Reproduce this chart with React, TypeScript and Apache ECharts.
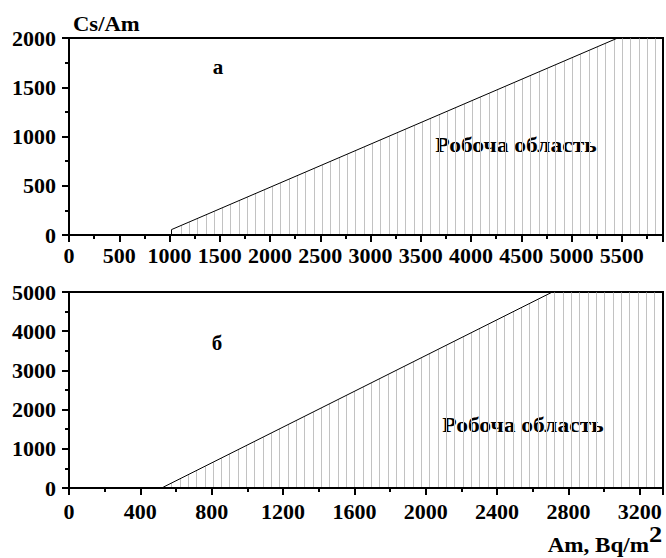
import React, { useEffect, useRef } from "react";
import * as echarts from "echarts";

// Panel а (top)
const topBoundaryX = [1020, 1020, 5460, 5910];
const topBoundaryY = [0, 55, 2000, 2000];
// Panel б (bottom)
const bottomBoundaryX = [528, 2710, 3330];
const bottomBoundaryY = [20, 5000, 5000];

const topXMax = 5910;
const topXInterval = 500;
const topYMax = 2000;
const topYInterval = 500;
const bottomXMax = 3330;
const bottomXInterval = 400;
const bottomYMax = 5000;
const bottomYInterval = 1000;

const panelLabels = ["а", "б"];
const regionLabel = "Робоча область";
const yAxisTitle = "Cs/Am";
const xAxisTitle = "Am, Bq/m";
const xAxisTitleSup = "2";

const FONT = "'Liberation Serif', 'Times New Roman', serif";

function zip(xs: number[], ys: number[]) {
  return xs.map((x, i) => [x, ys[i]]);
}

function hatchRender(bx: number[], by: number[], spacing: number, offset: number) {
  return (params: any, api: any) => {
    const cs = params.coordSys;
    const pts = bx.map((x, i) => api.coord([x, by[i]]));
    const bottom = cs.y + cs.height;
    const children: any[] = [];
    for (let px = pts[0][0] + offset; px < cs.x + cs.width - 1.5; px += spacing) {
      let yTop = cs.y;
      for (let i = 0; i < pts.length - 1; i++) {
        const [x0, y0] = pts[i];
        const [x1, y1] = pts[i + 1];
        if (px >= x0 && px <= x1 && x1 > x0) {
          yTop = y0 + ((y1 - y0) * (px - x0)) / (x1 - x0);
          break;
        }
      }
      yTop = Math.max(yTop, cs.y);
      const x = Math.round(px) + 0.5;
      children.push({
        type: "line",
        shape: { x1: x, y1: bottom - 1, x2: x, y2: yTop },
        style: { stroke: "#c2c2c2", lineWidth: 1 },
      });
    }
    return { type: "group", children };
  };
}

const axisCommon = {
  axisLine: { show: true, onZero: false, lineStyle: { color: "#000", width: 2 } },
  axisTick: { show: true, inside: false, length: 7, lineStyle: { color: "#000", width: 2 } },
  minorTick: { show: true, splitNumber: 2, length: 4, lineStyle: { color: "#000", width: 2 } },
  splitLine: { show: false },
  minorSplitLine: { show: false },
};

const labelStyle = {
  fontFamily: FONT,
  fontWeight: "bold" as const,
  fontSize: 22,
  color: "#000",
  formatter: (v: number) => String(v),
};

export default function App() {
  const ref = useRef<HTMLDivElement>(null);
  useEffect(() => {
    if (!ref.current) return;
    const chart = echarts.init(ref.current, null, { renderer: "svg" });
    const textStyle = (text: string, size = 20) => ({
      text,
      fontFamily: FONT,
      fontWeight: "bold",
      fontSize: size,
      fill: "#000",
    });
    chart.setOption({
      animation: false,
      backgroundColor: "#fff",
      grid: [
        { left: 69, top: 38, right: 3, height: 197, show: true, borderColor: "#000", borderWidth: 2, backgroundColor: "transparent" },
        { left: 69, top: 292, right: 3, height: 196, show: true, borderColor: "#000", borderWidth: 2, backgroundColor: "transparent" },
      ],
      xAxis: [
        {
          type: "value", gridIndex: 0, min: 0, max: topXMax, interval: topXInterval,
          ...axisCommon,
          axisLabel: { ...labelStyle, margin: 9, showMaxLabel: false },
        },
        {
          type: "value", gridIndex: 1, min: 0, max: bottomXMax, interval: bottomXInterval,
          ...axisCommon,
          axisLabel: { ...labelStyle, margin: 12, showMaxLabel: false },
        },
      ],
      yAxis: [
        {
          type: "value", gridIndex: 0, min: 0, max: topYMax, interval: topYInterval,
          ...axisCommon,
          axisLabel: { ...labelStyle, margin: 13 },
        },
        {
          type: "value", gridIndex: 1, min: 0, max: bottomYMax, interval: bottomYInterval,
          ...axisCommon,
          axisLabel: { ...labelStyle, margin: 13 },
        },
      ],
      series: [
        {
          type: "custom", xAxisIndex: 0, yAxisIndex: 0, data: [[0, 0]], z: 1,
          renderItem: hatchRender(topBoundaryX, topBoundaryY, 8.33, 9), silent: true,
        },
        {
          type: "custom", xAxisIndex: 1, yAxisIndex: 1, data: [[0, 0]], z: 1,
          renderItem: hatchRender(bottomBoundaryX, bottomBoundaryY, 8.33, 8), silent: true,
        },
        {
          type: "line", xAxisIndex: 0, yAxisIndex: 0, data: zip(topBoundaryX, topBoundaryY),
          showSymbol: false, symbol: "none", lineStyle: { color: "#000", width: 1 }, z: 3,
        },
        {
          type: "line", xAxisIndex: 1, yAxisIndex: 1, data: zip(bottomBoundaryX, bottomBoundaryY),
          showSymbol: false, symbol: "none", lineStyle: { color: "#000", width: 1 }, z: 3,
        },
      ],
      graphic: [
        { type: "text", x: 73, y: 24, scaleX: 1.08, style: { ...textStyle(yAxisTitle, 21), align: "left", verticalAlign: "middle" } },
        { type: "text", x: 218, y: 67, style: { ...textStyle(panelLabels[0], 21), align: "center", verticalAlign: "middle" } },
        { type: "text", x: 217, y: 343, style: { ...textStyle(panelLabels[1], 21), align: "center", verticalAlign: "middle" } },
        { type: "text", x: 516, y: 145, scaleX: 1.12, style: { ...textStyle(regionLabel, 21), align: "center", verticalAlign: "middle" } },
        { type: "text", x: 523, y: 425, scaleX: 1.12, style: { ...textStyle(regionLabel, 21), align: "center", verticalAlign: "middle" } },
        { type: "text", x: 649, y: 545, scaleX: 1.1, style: { ...textStyle(xAxisTitle, 21), align: "right", verticalAlign: "middle" } },
        { type: "text", x: 649, y: 534, scaleX: 1.1, style: { ...textStyle(xAxisTitleSup, 24), align: "left", verticalAlign: "middle" } },
      ],
    });
    return () => chart.dispose();
  }, []);
  return (
    <div
      ref={ref}
      style={{ position: "fixed", left: 0, top: 0, width: 666, height: 558, background: "#fff" }}
    />
  );
}
